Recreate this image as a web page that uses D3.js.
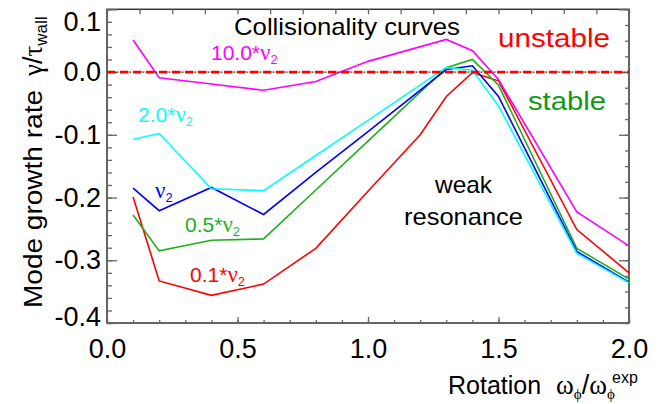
<!DOCTYPE html>
<html>
<head>
<meta charset="utf-8">
<script src="https://cdn.jsdelivr.net/npm/d3@7"></script>
<style>
  body { margin: 0; background: #fff; }
  svg { display: block; font-family: "Liberation Sans", Arial, sans-serif; }
  .greek { font-family: "Liberation Serif", "Times New Roman", serif; }
</style>
</head>
<body>
<svg id="chart" width="662" height="404"></svg>
<script>
// rotation values (omega_phi / omega_phi^exp)
const rotation = [0.1, 0.2, 0.4, 0.6, 0.8, 1.0, 1.3, 1.4, 1.5, 1.8, 2.0];
const rotationRed = [0.1, 0.2, 0.4, 0.6, 0.8, 1.0, 1.2, 1.3, 1.4, 1.5, 1.8, 2.0];

// growth rate gamma*tau_wall for each collisionality
const nu01 = [-0.199, -0.333, -0.356, -0.338, -0.281, -0.190, -0.100, -0.039, -0.001, -0.014, -0.251, -0.320];
const nu05 = [-0.228, -0.285, -0.268, -0.266, -0.188, -0.110, 0.007, 0.020, -0.021, -0.281, -0.330];
const nu1 = [-0.185, -0.221, -0.184, -0.227, -0.160, -0.095, 0.004, 0.010, -0.039, -0.286, -0.335];
const nu2x = [-0.107, -0.098, -0.186, -0.189, -0.133, -0.077, 0.0075, 0.003, -0.054, -0.289, -0.336];
const nu10 = [0.051, -0.009, -0.019, -0.029, -0.015, 0.017, 0.052, 0.034, -0.012, -0.223, -0.277];

const xTicks = [0, 0.5, 1.0, 1.5, 2.0];
const yTicks = [0.1, 0, -0.1, -0.2, -0.3, -0.4];

const series = [
  { name: '0.1*', xs: rotationRed, ys: nu01, color: '#ff0000', label: [190, 282] },
  { name: '0.5*', xs: rotation, ys: nu05, color: '#1cb01c', label: [185, 232] },
  { name: '', xs: rotation, ys: nu1, color: '#0000ff', label: [155, 198] },
  { name: '2.0*', xs: rotation, ys: nu2x, color: '#00ffff', label: [138, 122] },
  { name: '10.0*', xs: rotation, ys: nu10, color: '#ff00ff', label: [211, 60] }
];

const svg = d3.select('#chart');

const x = d3.scaleLinear().domain([0, 2]).range([107, 629]);
const y = d3.scaleLinear().domain([-0.4, 0.1]).range([323, 9.3]);

const axisColor = '#333';
const tickColor = '#666';

// frame
svg.append('rect')
  .attr('x', x(0)).attr('y', y(0.1))
  .attr('width', x(2) - x(0)).attr('height', y(-0.4) - y(0.1))
  .attr('fill', 'none').attr('stroke', axisColor).attr('stroke-width', 1.5);

function styleAxis(g) {
  g.select('.domain').remove();
  g.selectAll('line').attr('stroke', tickColor).attr('stroke-width', 1.3);
  g.selectAll('text').attr('fill', '#000').attr('font-size', 27)
    .attr('font-family', '"Liberation Sans", Arial, sans-serif');
}

// left axis: major + minor every 0.02
svg.append('g').attr('transform', `translate(${x(0)},0)`)
  .call(d3.axisLeft(y).tickValues(d3.range(-0.4, 0.1001, 0.02)).tickSize(-5).tickFormat(''))
  .call(styleAxis);
svg.append('g').attr('transform', `translate(${x(0)},0)`)
  .call(d3.axisLeft(y).tickValues(yTicks).tickSize(-10).tickPadding(6).tickFormat(d3.format('.1f')))
  .call(styleAxis)
  .call(g => g.selectAll('text')
    .text(d => d3.format('.1f')(d).replace('−', '-'))
    .attr('y', d => Math.min(Math.max(y(d), 22), 317) - y(d)));

// right axis: minor every 0.025
svg.append('g').attr('transform', `translate(${x(2)},0)`)
  .call(d3.axisRight(y).tickValues(d3.range(-0.4, 0.1001, 0.025)).tickSize(-4).tickFormat(''))
  .call(styleAxis);
svg.append('g').attr('transform', `translate(${x(2)},0)`)
  .call(d3.axisRight(y).tickValues(yTicks).tickSize(-10).tickFormat(''))
  .call(styleAxis);

// bottom axis: minor every 0.1
svg.append('g').attr('transform', `translate(0,${y(-0.4)})`)
  .call(d3.axisBottom(x).tickValues(d3.range(0, 2.001, 0.1)).tickSize(-3).tickFormat(''))
  .call(styleAxis);
svg.append('g').attr('transform', `translate(0,${y(-0.4)})`)
  .call(d3.axisBottom(x).tickValues(xTicks).tickSize(-6).tickPadding(16).tickFormat(d3.format('.1f')))
  .call(styleAxis);

// top axis: minor every 0.125
svg.append('g').attr('transform', `translate(0,${y(0.1)})`)
  .call(d3.axisTop(x).tickValues(d3.range(0, 2.001, 0.125)).tickSize(-5).tickFormat(''))
  .call(styleAxis);

// curves
const line = d3.line().x(d => x(d[0])).y(d => y(d[1]));
series.forEach(s => {
  svg.append('path')
    .datum(s.xs.map((v, i) => [v, s.ys[i]]))
    .attr('d', line)
    .attr('fill', 'none')
    .attr('stroke', s.color)
    .attr('stroke-width', 1.6);
});

// zero line: dark dash-dot under red dashes
svg.append('line')
  .attr('x1', x(0)).attr('x2', x(2)).attr('y1', y(0)).attr('y2', y(0))
  .attr('stroke', '#333').attr('stroke-width', 1.2).attr('stroke-dasharray', '0 9.5 2 1.5');
svg.append('line')
  .attr('x1', x(0)).attr('x2', x(2)).attr('y1', y(0)).attr('y2', y(0))
  .attr('stroke', '#ff0000').attr('stroke-width', 2.8).attr('stroke-dasharray', '8.5 4.5');

// curve labels
series.forEach(s => {
  const t = svg.append('text')
    .attr('x', s.label[0]).attr('y', s.label[1])
    .attr('fill', s.color).attr('font-size', 21);
  if (s.name) t.append('tspan').text(s.name);
  t.append('tspan').attr('class', 'greek').attr('font-size', 23).text('ν');
  t.append('tspan').attr('font-size', 13).attr('dy', 4).text('2');
});

// annotations
function note(txt, px, py, size, len, color) {
  svg.append('text').attr('x', px).attr('y', py)
    .attr('font-size', size).attr('fill', color)
    .attr('textLength', len).attr('lengthAdjust', 'spacingAndGlyphs')
    .text(txt);
}
note('Collisionality  curves', 234, 35, 24, 226, '#000');
note('unstable', 498, 47, 26, 112, '#ff0000');
note('stable', 528, 110, 26, 78, '#119a11');
note('weak', 435, 193, 24, 57, '#000');
note('resonance', 404, 225, 24, 119, '#000');

// x axis title
const xt = svg.append('text').attr('x', 448).attr('y', 394).attr('font-size', 25).attr('fill', '#000');
xt.append('tspan').text('Rotation');
xt.append('tspan').attr('class', 'greek').attr('x', 556).attr('font-size', 27).text('ω');
xt.append('tspan').attr('class', 'greek').attr('font-size', 15).attr('dy', 5).text('ϕ');
xt.append('tspan').attr('dy', -5).attr('font-size', 27).text('/');
xt.append('tspan').attr('class', 'greek').attr('font-size', 27).text('ω');
xt.append('tspan').attr('class', 'greek').attr('font-size', 15).attr('dy', 5).text('ϕ');
svg.append('text').attr('x', 612).attr('y', 383).attr('font-size', 16).attr('fill', '#000').text('exp');

// y axis title (rotated)
const yt = svg.append('g').attr('transform', 'translate(42,0) rotate(-90)');
yt.append('text').attr('x', -308).attr('y', 0).attr('font-size', 26)
  .attr('textLength', 218).attr('lengthAdjust', 'spacingAndGlyphs')
  .text('Mode growth rate');
const yg = yt.append('text').attr('x', -76).attr('y', 0).attr('font-size', 27);
yg.append('tspan').attr('class', 'greek').text('γ');
yg.append('tspan').text('/');
yg.append('tspan').attr('class', 'greek').text('τ');
yg.append('tspan').attr('font-size', 17).attr('dy', 5).text('wall');
</script>
</body>
</html>
